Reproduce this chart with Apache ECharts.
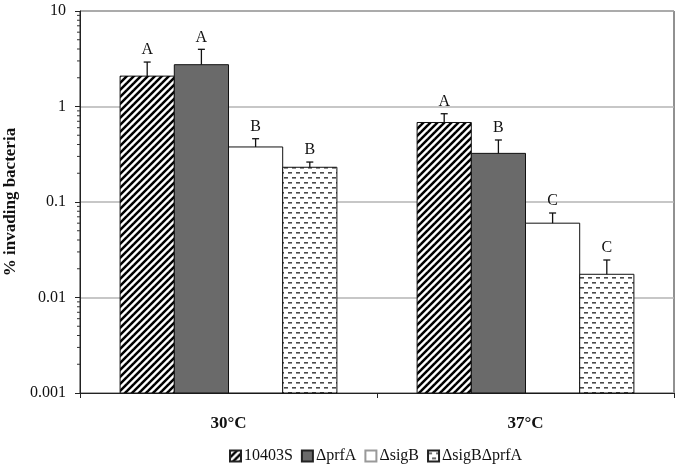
<!DOCTYPE html>
<html><head><meta charset="utf-8">
<script src="https://cdn.jsdelivr.net/npm/echarts@6/dist/echarts.min.js"></script>
<style>html,body{margin:0;padding:0;background:#fff}#c{width:682px;height:472px}</style>
</head><body><div id="c"></div>
<script>
const categories = ['30°C', '37°C'];
const seriesNames = ['10403S', 'ΔprfA', 'ΔsigB', 'ΔsigBΔprfA'];
const val10403S = [2.08, 0.68];
const valPrfA = [2.74, 0.323];
const valSigB = [0.377, 0.060];
const valSigBPrfA = [0.231, 0.0175];
const err10403S = [2.92, 0.84];
const errPrfA = [3.97, 0.446];
const errSigB = [0.46, 0.0767];
const errSigBPrfA = [0.262, 0.0247];
const letters10403S = ['A', 'A'];
const lettersPrfA = ['A', 'B'];
const lettersSigB = ['B', 'C'];
const lettersSigBPrfA = ['B', 'C'];
const yTickLabels = ['0.001', '0.01', '0.1', '1', '10'];
const yMin = 0.001, yMax = 10;

const values = [val10403S, valPrfA, valSigB, valSigBPrfA];
const errs = [err10403S, errPrfA, errSigB, errSigBPrfA];
const letters = [letters10403S, lettersPrfA, lettersSigB, lettersSigBPrfA];

function stripe() {
  const c = document.createElement('canvas');
  c.width = 7; c.height = 7;
  const g = c.getContext('2d');
  g.fillStyle = '#fff'; g.fillRect(0, 0, 7, 7);
  g.strokeStyle = '#000'; g.lineWidth = 2.5;
  for (const o of [-7, 0, 7]) {
    g.beginPath(); g.moveTo(o - 1, 8); g.lineTo(o + 8, -1); g.stroke();
  }
  return c;
}
function dashes() {
  const c = document.createElement('canvas');
  c.width = 8; c.height = 10;
  const g = c.getContext('2d');
  g.fillStyle = '#fff'; g.fillRect(0, 0, 8, 10);
  g.fillStyle = '#4a4a4a';
  g.fillRect(0, 2, 4, 1.6);
  g.fillRect(4, 7, 4, 1.6);
  return c;
}
const fills = [
  { image: stripe(), repeat: 'repeat' },
  '#6a6a6a',
  '#ffffff',
  { image: dashes(), repeat: 'repeat' }
];
const GAP = 0.27;
const serif = '"Liberation Serif", "Times New Roman", serif';

function barGeom(api, c, v, s) {
  const bw = api.size([1, 0])[0];
  const barW = bw * (1 - GAP) / 4;
  const center = api.coord([c, v]);
  const left = center[0] - bw * (1 - GAP) / 2 + s * barW;
  return { left, barW, top: center[1], bottom: api.coord([c, yMin])[1] };
}

const barSeries = seriesNames.map((n, s) => ({
  name: n, type: 'custom',
  data: values[s].map((v, c) => [c, v]),
  encode: { x: 0, y: 1 }, silent: true, z: 2,
  itemStyle: { color: fills[s], borderColor: s === 2 ? '#999' : '#222', borderWidth: 1 },
  renderItem(params, api) {
    const g = barGeom(api, api.value(0), api.value(1), s);
    return { type: 'rect', shape: { x: g.left, y: g.top, width: g.barW, height: g.bottom - g.top },
      style: { fill: fills[s], stroke: '#111', lineWidth: 1 } };
  }
}));

const errData = [];
for (let s = 0; s < 4; s++) for (let c = 0; c < 2; c++)
  errData.push([c, values[s][c], errs[s][c], s, letters[s][c]]);

const errSeries = {
  type: 'custom', data: errData, encode: { x: 0, y: [1, 2] }, z: 5, silent: true,
  renderItem(params, api) {
    const c = api.value(0), v = api.value(1), e = api.value(2), s = api.value(3);
    const lab = errData[params.dataIndex][4];
    const g = barGeom(api, c, v, s);
    const x = g.left + g.barW / 2;
    const y0 = g.top;
    const y1 = api.coord([c, e])[1];
    return { type: 'group', children: [
      { type: 'line', shape: { x1: x, y1: y0, x2: x, y2: y1 }, style: { stroke: '#111', lineWidth: 1.3 } },
      { type: 'line', shape: { x1: x - 3.5, y1: y1, x2: x + 3.5, y2: y1 }, style: { stroke: '#111', lineWidth: 1.3 } },
      { type: 'text', x: x, y: y1 - 4, style: { text: lab, font: '16px ' + serif, fill: '#111', align: 'center', verticalAlign: 'bottom' } }
    ]};
  }
};

const minorVals = [];
for (let d = -3; d < 1; d++) for (let m = 2; m <= 9; m++) minorVals.push([0, m * Math.pow(10, d)]);
const minorSeries = {
  type: 'custom', data: minorVals, encode: { x: 0, y: 1 }, z: 5, silent: true,
  renderItem(params, api) {
    const p = api.coord([0, api.value(1)]);
    const x0 = p[0] - api.size([1, 0])[0] / 2;
    return { type: 'line', shape: { x1: x0 - 3, y1: p[1], x2: x0, y2: p[1] }, style: { stroke: '#333', lineWidth: 1 } };
  }
};

const chart = echarts.init(document.getElementById('c'), null, { renderer: 'canvas' });
chart.setOption({
  animation: false,
  backgroundColor: '#fff',
  grid: { left: 80, right: 8, top: 11, bottom: 79, show: true, borderColor: '#222', borderWidth: 1,
    containLabel: false, outerBoundsMode: 'none' },
  xAxis: {
    type: 'category', data: categories,
    axisLine: { lineStyle: { color: '#222', width: 1 } },
    axisTick: { show: true, length: 5, lineStyle: { color: '#222' } },
    axisLabel: { fontFamily: serif, fontWeight: 'bold', fontSize: 17, color: '#111', margin: 22 }
  },
  yAxis: {
    type: 'log', logBase: 10, min: yMin, max: yMax,
    name: '% invading bacteria', nameLocation: 'middle', nameGap: 54, nameRotate: 90,
    nameTextStyle: { fontFamily: serif, fontWeight: 'bold', fontSize: 17, color: '#111' },
    axisLine: { show: true, lineStyle: { color: '#222' } },
    axisTick: { show: true, length: 5, inside: false, lineStyle: { color: '#222' } },
    splitLine: { show: true, lineStyle: { color: '#b4b4b4', width: 1.5 } },
    axisLabel: {
      fontFamily: serif, fontSize: 16, color: '#111', margin: 14,
      formatter: v => yTickLabels[Math.round(Math.log10(v)) + 3]
    }
  },
  legend: {
    data: seriesNames, left: 224, top: 443, itemWidth: 11, itemHeight: 11, itemGap: 8, icon: 'rect',
    textStyle: { fontFamily: serif, fontSize: 16, color: '#111', padding: [0, 0, 0, -2] }
  },
  series: [...barSeries, errSeries, minorSeries]
});
</script></body></html>
